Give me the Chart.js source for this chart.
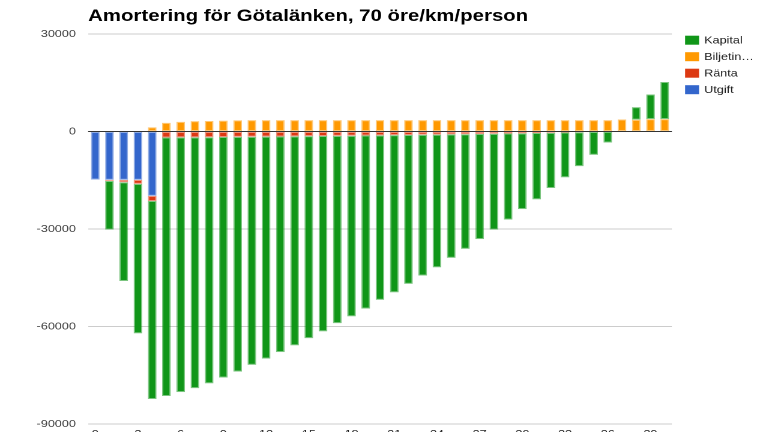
<!DOCTYPE html>
<html lang="sv">
<head>
<meta charset="utf-8">
<title>Amortering för Götalänken</title>
<script src="https://cdn.jsdelivr.net/npm/chart.js@4.4.1/dist/chart.umd.min.js"></script>
<style>
  html, body { margin: 0; padding: 0; background: #fff; overflow: hidden; }
  /* chart is laid out 633px wide and stretched out to the full 760px */
  #wrap { position: relative; width: 633px; height: 450px; transform: scaleX(1.2006); transform-origin: 0 0; }
</style>
</head>
<body>
<div id="wrap"><canvas id="chart"></canvas></div>
<script>
// År 0..40
const years = [0, 1, 2, 3, 4, 5, 6, 7, 8, 9, 10, 11, 12, 13, 14, 15, 16, 17, 18, 19, 20,
               21, 22, 23, 24, 25, 26, 27, 28, 29, 30, 31, 32, 33, 34, 35, 36, 37, 38, 39, 40];

// Utgift (byggkostnad) per år
const utgift = [-14800, -14900, -14900, -14900, -19800, 0, 0, 0, 0, 0, 0, 0, 0, 0, 0, 0, 0, 0, 0, 0, 0,
                0, 0, 0, 0, 0, 0, 0, 0, 0, 0, 0, 0, 0, 0, 0, 0, 0, 0, 0, 0];

// Räntekostnad per år
const ranta = [0, -300, -700, -1200, -1600, -1850, -1820, -1790, -1750, -1710, -1670, -1630, -1590, -1540,
               -1490, -1440, -1390, -1340, -1290, -1240, -1190, -1130, -1070, -1010, -950, -890, -830,
               -760, -700, -630, -560, -480, -400, -320, -240, -150, -70, 0, 0, 0, 0];

// Biljetintäkter per år
const biljet = [0, 0, 0, 0, 1300, 2700, 3000, 3200, 3250, 3350, 3450, 3500, 3500, 3500, 3500, 3500,
                3500, 3500, 3500, 3500, 3500, 3500, 3500, 3500, 3500, 3500, 3500, 3500, 3500, 3500,
                3500, 3500, 3500, 3500, 3500, 3500, 3500, 3700, 3600, 3800, 3800];

// Kapital (kvarvarande skuld / överskott)
const kapital = [0, -15000, -30400, -46000, -60900, -79550, -78380, -77210, -75750, -73990, -72230,
                 -70170, -68310, -66360, -64310, -62160, -60110, -57660, -55610, -53260, -50610,
                 -48370, -45830, -43290, -40850, -38010, -35270, -32340, -29500, -26470, -23340,
                 -20420, -17000, -13780, -10460, -7050, -3330, 0, 3900, 7600, 11450];

const yTicks = [-90000, -60000, -30000, 0, 30000];

const FONT = '"Liberation Sans", Arial, sans-serif';

// dark zero line on top of the bars
const zeroLine = {
  id: 'zeroLine',
  afterDatasetsDraw(chart) {
    const { ctx, chartArea, scales } = chart;
    const y = scales.y.getPixelForValue(0);
    ctx.save();
    ctx.strokeStyle = '#333';
    ctx.lineWidth = 1;
    ctx.beginPath();
    ctx.moveTo(chartArea.left, y);
    ctx.lineTo(chartArea.right, y);
    ctx.stroke();
    ctx.restore();
  }
};

// legend to the right of the plot, top aligned with it
const sideLegend = {
  id: 'sideLegend',
  afterDraw(chart) {
    const { ctx, chartArea } = chart;
    const sets = chart.data.datasets.slice().reverse();
    ctx.save();
    ctx.font = '10.5px ' + FONT;
    ctx.textBaseline = 'middle';
    sets.forEach((ds, i) => {
      const x = chartArea.right + 11;
      const y = chartArea.top + 1.7 + i * 16.5;
      ctx.fillStyle = ds.backgroundColor;
      ctx.fillRect(x, y, 11.7, 9);
      ctx.fillStyle = '#222';
      ctx.fillText(ds.label, x + 15.9, y + 4.8);
    });
    ctx.restore();
  }
};

function barSet(label, data, color, edge) {
  return {
    label: label,
    data: data,
    backgroundColor: color,
    borderColor: edge,
    borderWidth: 1,
    borderSkipped: false,
    barPercentage: 0.61,
    categoryPercentage: 1
  };
}

new Chart(document.getElementById('chart'), {
  type: 'bar',
  data: {
    labels: years,
    // stacking order: Utgift closest to zero, Kapital outermost
    datasets: [
      barSet('Utgift', utgift, '#3366cc', 'rgba(51,102,204,0.55)'),
      barSet('Ränta', ranta, '#dc3912', 'rgba(220,57,18,0.55)'),
      barSet('Biljetin…', biljet, '#ff9900', 'rgba(255,153,0,0.55)'),
      barSet('Kapital', kapital, '#109618', 'rgba(16,150,24,0.55)')
    ]
  },
  options: {
    responsive: true,
    maintainAspectRatio: false,
    devicePixelRatio: 2,
    animation: false,
    layout: { padding: { left: 0, right: 73.4, top: 0, bottom: 0 } },
    scales: {
      x: {
        stacked: true,
        grid: { display: false, drawTicks: false },
        border: { display: false },
        ticks: {
          autoSkip: false,
          maxRotation: 0,
          minRotation: 0,
          padding: 4,
          color: '#222',
          font: { family: FONT, size: 10.5 },
          callback: (v, i) => (i % 3 === 0 ? String(years[i]) : '')
        },
        afterFit: (s) => { s.height = 26; }
      },
      y: {
        stacked: true,
        min: yTicks[0],
        max: yTicks[yTicks.length - 1],
        afterBuildTicks: (s) => { s.ticks = yTicks.map(v => ({ value: v })); },
        grid: { color: '#ccc', drawTicks: false },
        border: { display: false },
        ticks: {
          padding: 10.2,
          color: '#444',
          font: { family: FONT, size: 10.5 },
          callback: (v) => String(v)
        },
        afterFit: (s) => { s.width = 73.4; }
      }
    },
    plugins: {
      legend: { display: false },
      title: {
        display: true,
        text: 'Amortering för Götalänken, 70 öre/km/person',
        align: 'start',
        fullSize: false,
        color: '#000',
        font: { family: FONT, size: 17, weight: 'bold' },
        padding: { top: 6.3, bottom: 7.3 }
      }
    }
  },
  plugins: [zeroLine, sideLegend]
});
</script>
</body>
</html>
